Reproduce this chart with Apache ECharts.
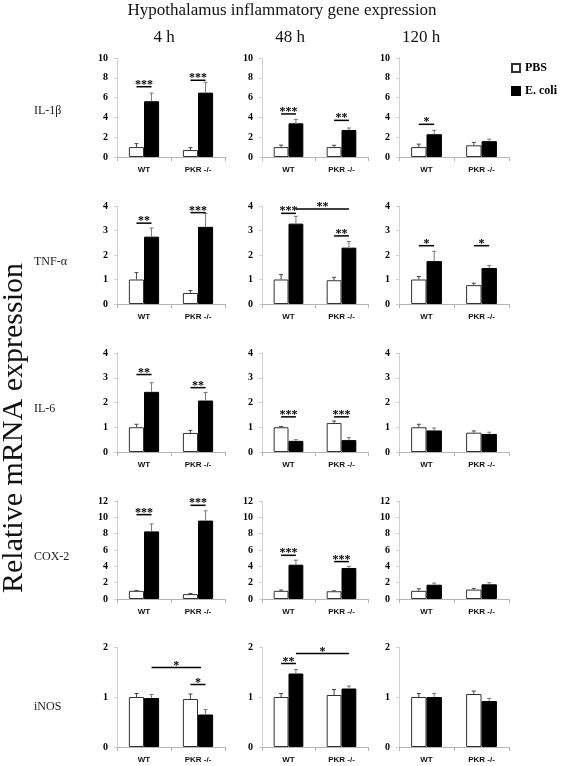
<!DOCTYPE html>
<html><head><meta charset="utf-8">
<script src="https://cdn.jsdelivr.net/npm/echarts@6/dist/echarts.min.js"></script>
<style>html,body{margin:0;padding:0;background:#fff}#c{width:564px;height:766px}</style>
</head><body><div id="c"></div><script>
// ---------- data ----------
const genes = ['IL-1β', 'TNF-α', 'IL-6', 'COX-2', 'iNOS'];
const times = ['4 h', '48 h', '120 h'];
const groups = ['WT', 'PKR -/-'];
const seriesNames = ['PBS', 'E. coli'];
const yMax = [10, 4, 4, 12, 2];
const yStep = [2, 1, 1, 2, 1];
// per gene: [4h WT, 4h PKR, 48h WT, 48h PKR, 120h WT, 120h PKR]
const pbsMean = [
  [1.0, 0.70, 1.0, 1.00, 1.0, 1.18],
  [1.0, 0.45, 1.0, 0.97, 1.0, 0.77],
  [1.0, 0.77, 1.0, 1.17, 1.0, 0.78],
  [1.0, 0.60, 1.0, 0.95, 1.0, 1.15],
  [1.0, 0.96, 1.0, 1.04, 1.0, 1.06]
];
const pbsSem = [
  [0.35, 0.25, 0.20, 0.18, 0.30, 0.30],
  [0.28, 0.10, 0.20, 0.12, 0.12, 0.08],
  [0.12, 0.10, 0.03, 0.08, 0.12, 0.07],
  [0.05, 0.08, 0.10, 0.05, 0.25, 0.15],
  [0.07, 0.10, 0.07, 0.11, 0.07, 0.06]
];
const ecoliMean = [
  [5.63, 6.50, 3.40, 2.73, 2.30, 1.60],
  [2.75, 3.15, 3.28, 2.30, 1.75, 1.47],
  [2.43, 2.08, 0.45, 0.48, 0.87, 0.73],
  [8.28, 9.60, 4.20, 3.80, 1.75, 1.80],
  [0.98, 0.65, 1.47, 1.17, 1.00, 0.92]
];
const ecoliSem = [
  [0.82, 1.05, 0.40, 0.20, 0.40, 0.20],
  [0.35, 0.55, 0.30, 0.25, 0.40, 0.10],
  [0.37, 0.32, 0.05, 0.10, 0.10, 0.07],
  [0.92, 1.20, 0.55, 0.20, 0.20, 0.20],
  [0.07, 0.10, 0.08, 0.05, 0.07, 0.05]
];
// significance: [gene, time, fromBar, toBar, y, label]; bars 0=WT PBS,1=WT E.coli,2=PKR PBS,3=PKR E.coli
const sigMarks = [
  [0, 0, 0, 1, 7.1, '***'], [0, 0, 2, 3, 7.75, '***'],
  [0, 1, 0, 1, 4.35, '***'], [0, 1, 2, 3, 3.7, '**'],
  [0, 2, 0, 1, 3.3, '*'],
  [1, 0, 0, 1, 3.3, '**'], [1, 0, 2, 3, 3.73, '***'],
  [1, 1, 0, 1, 3.7, '***'], [1, 1, 1, 3, 3.88, '**'], [1, 1, 2, 3, 2.78, '**'],
  [1, 2, 0, 1, 2.38, '*'], [1, 2, 2, 3, 2.38, '*'],
  [2, 0, 0, 1, 3.13, '**'], [2, 0, 2, 3, 2.6, '**'],
  [2, 1, 0, 1, 1.42, '***'], [2, 1, 2, 3, 1.42, '***'],
  [3, 0, 0, 1, 10.33, '***'], [3, 0, 2, 3, 11.47, '***'],
  [3, 1, 0, 1, 5.35, '***'], [3, 1, 2, 3, 4.58, '***'],
  [4, 0, 1, 2.7, 1.59, '*'], [4, 0, 2, 3, 1.25, '*'],
  [4, 1, 0, 1, 1.67, '**'], [4, 1, 1, 3, 1.87, '*']
];

// ---------- layout ----------
const gridLeft = [117, 262, 399];
const gridWidth = [108, 106, 110];
const gridTop = [58, 206, 353, 501, 647];
const gridHeight = [99, 98, 99, 98, 100];
const BAR_FRAC = 0.28;
const SERIF = 'Liberation Serif';
const SANS = 'Liberation Sans';

const grids = [], xAxes = [], yAxes = [], series = [];

function barCenter(api, b) {
  const band = api.size([1, 0])[0];
  const bw = band * BAR_FRAC;
  const c0 = api.coord([0, 0])[0];
  const centers = [c0 - bw / 2, c0 + bw / 2, c0 + band - bw / 2, c0 + band + bw / 2];
  const lo = Math.floor(b), hi = Math.min(3, Math.ceil(b));
  return centers[lo] + (centers[hi] - centers[lo]) * (b - lo);
}

genes.forEach((gene, g) => {
  times.forEach((tm, t) => {
    const idx = grids.length;
    grids.push({ left: gridLeft[t], top: gridTop[g], width: gridWidth[t], height: gridHeight[g], containLabel: false });
    xAxes.push({
      type: 'category', gridIndex: idx, data: groups,
      axisLine: { lineStyle: { color: '#b5b5b5', width: 1 } },
      axisTick: { show: true, length: 4, lineStyle: { color: '#b5b5b5' } },
      axisLabel: { fontFamily: SANS, fontWeight: 'bold', fontSize: 8, color: '#111', margin: 9 }
    });
    yAxes.push({
      type: 'value', gridIndex: idx, min: 0, max: yMax[g], interval: yStep[g],
      axisLine: { show: true, lineStyle: { color: '#d0d0d0', width: 1 } },
      axisTick: { show: true, length: 3, lineStyle: { color: '#d0d0d0' } },
      splitLine: { show: false },
      axisLabel: { fontFamily: SERIF, fontWeight: 'bold', fontSize: 10, color: '#000', margin: 9 }
    });
    const pbs = [pbsMean[g][t * 2], pbsMean[g][t * 2 + 1]];
    const eco = [ecoliMean[g][t * 2], ecoliMean[g][t * 2 + 1]];
    series.push({
      type: 'bar', name: seriesNames[0], xAxisIndex: idx, yAxisIndex: idx, data: pbs,
      barWidth: (BAR_FRAC * 100) + '%', barGap: '0%',
      itemStyle: { color: '#fff', borderColor: '#333', borderWidth: 1 }, silent: true, animation: false
    });
    series.push({
      type: 'bar', name: seriesNames[1], xAxisIndex: idx, yAxisIndex: idx, data: eco,
      barWidth: (BAR_FRAC * 100) + '%', barGap: '0%',
      itemStyle: { color: '#000', borderColor: '#000', borderWidth: 1 }, silent: true, animation: false
    });
    const errData = [];
    for (let c = 0; c < 2; c++) {
      errData.push([c, pbsMean[g][t * 2 + c], pbsSem[g][t * 2 + c], 0]);
      errData.push([c, ecoliMean[g][t * 2 + c], ecoliSem[g][t * 2 + c], 1]);
    }
    series.push({
      type: 'custom', xAxisIndex: idx, yAxisIndex: idx, data: errData, z: 5, silent: true, animation: false,
      encode: { x: 0, y: 1 },
      renderItem: (params, api) => {
        const cat = api.value(0), mean = api.value(1), sem = api.value(2), side = api.value(3);
        const cx = barCenter(api, cat * 2 + side);
        const yb = api.coord([cat, mean])[1];
        const yt = api.coord([cat, mean + sem])[1];
        const col = side === 0 ? '#444' : '#777';
        return { type: 'group', children: [
          { type: 'line', shape: { x1: cx, y1: yb, x2: cx, y2: yt }, style: { stroke: col, lineWidth: 1 } },
          { type: 'line', shape: { x1: cx - 2, y1: yt, x2: cx + 2, y2: yt }, style: { stroke: col, lineWidth: 1 } }
        ] };
      }
    });
    const sigs = sigMarks.filter(s => s[0] === g && s[1] === t);
    if (sigs.length) {
      series.push({
        type: 'custom', xAxisIndex: idx, yAxisIndex: idx, z: 6, silent: true, animation: false,
        data: sigs.map(s => [0, s[4]]),
        encode: { x: 0, y: 1 },
        renderItem: (params, api) => {
          const s = sigs[params.dataIndex];
          const x1 = barCenter(api, s[2]), x2 = barCenter(api, s[3]);
          const y = api.coord([0, s[4]])[1];
          return { type: 'group', children: [
            { type: 'line', shape: { x1: x1, y1: y, x2: x2, y2: y }, style: { stroke: '#000', lineWidth: 1.5 } },
            { type: 'text', style: { text: s[5], x: (x1 + x2) / 2, y: y + 4, align: 'center', verticalAlign: 'bottom',
              font: 'bold 12px "Liberation Serif"', fill: '#000' } }
          ] };
        }
      });
    }
  });
});

const graphics = [
  { type: 'text', left: 'center', top: 2, style: { text: 'Hypothalamus inflammatory gene expression', font: '17px "Liberation Serif"', fill: '#111' } }
];
const headerX = [164, 290, 421];
times.forEach((tm, t) => graphics.push({ type: 'text', x: headerX[t], y: 38, style: { text: tm, font: '17px "Liberation Serif"', fill: '#111', align: 'center', verticalAlign: 'middle' } }));
const geneY = [111, 262, 409, 557, 707];
genes.forEach((gn, g) => graphics.push({ type: 'text', x: 34, y: geneY[g], style: { text: gn, font: '12px "Liberation Serif"', fill: '#1a1a1a', align: 'left', verticalAlign: 'middle' } }));
graphics.push({ type: 'text', x: 14, y: 428, rotation: Math.PI / 2, style: { text: 'Relative mRNA expression', font: '30px "Liberation Serif"', fill: '#111', align: 'center', verticalAlign: 'middle' } });

const chart = echarts.init(document.getElementById('c'), null, { renderer: 'canvas' });
chart.setOption({
  backgroundColor: '#fff',
  animation: false,
  grid: grids, xAxis: xAxes, yAxis: yAxes, series: series,
  legend: {
    data: seriesNames, orient: 'vertical', left: 511, top: 62, itemWidth: 8, itemHeight: 8, itemGap: 11,
    icon: 'rect', padding: 0,
    textStyle: { fontFamily: SERIF, fontWeight: 'bold', fontSize: 12, color: '#000', padding: [0, 0, 0, 0] }
  },
  graphic: graphics
});
</script></body></html>
